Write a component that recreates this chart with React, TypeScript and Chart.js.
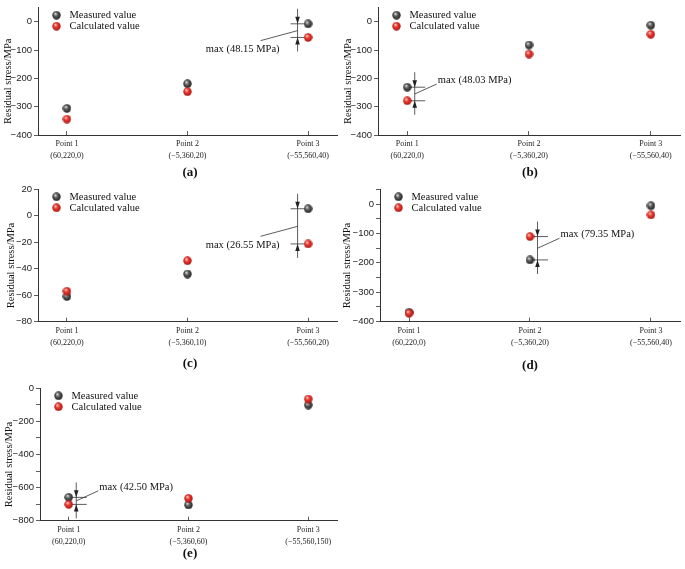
import React, { useEffect, useRef } from 'react';
import { Chart, registerables } from 'chart.js';

Chart.register(...registerables);

// ---------- data ----------
const pointNames = ['Point 1', 'Point 2', 'Point 3'];
const coordsA = ['(60,220,0)', '(−5,360,20)', '(−55,560,40)'];
const coordsB = ['(60,220,0)', '(−5,360,20)', '(−55,560,40)'];
const coordsC = ['(60,220,0)', '(−5,360,10)', '(−55,560,20)'];
const coordsD = ['(60,220,0)', '(−5,360,20)', '(−55,560,40)'];
const coordsE = ['(60,220,0)', '(−5,360,60)', '(−55,560,150)'];

const seriesNames = ['Measured value', 'Calculated value'];

const measuredA = [-306, -219, -7];
const calculatedA = [-344, -247, -55.15];
const measuredB = [-231, -82, -12];
const calculatedB = [-279.03, -114, -44];
const measuredC = [-61, -44, 5.3];
const calculatedC = [-57, -34, -21.25];
const measuredD = [-368, -190, -6];
const calculatedD = [-371, -110.65, -37];
const measuredE = [-659, -705, -101];
const calculatedE = [-701.5, -665, -65];

const maxTexts = ['max (48.15 MPa)', 'max (48.03 MPa)', 'max (26.55 MPa)', 'max (79.35 MPa)', 'max (42.50 MPa)'];
const captions = ['(a)', '(b)', '(c)', '(d)', '(e)'];
const yTitle = 'Residual stress/MPa';

// ---------- styling / layout ----------
const SERIF = '"Liberation Serif", "Times New Roman", serif';
const SANS = '"Liberation Sans", Arial, sans-serif';

type PanelCfg = {
  left: number; top: number; w: number; h: number;
  plot: { l: number; t: number; r: number; b: number };
  yMin: number; yMax: number; major: number; minor: number;
  coords: string[]; measured: number[]; calculated: number[];
  annIndex: number; side: 'left' | 'right'; maxText: string;
  caption: string; capX: number; capY: number; titleX: number;
};

const panels: PanelCfg[] = [
  { left: 0, top: 0, w: 342, h: 168, plot: { l: 38, t: 3, r: 340, b: 135 }, yMin: -400, yMax: 50, major: 100, minor: 50,
    coords: coordsA, measured: measuredA, calculated: calculatedA, annIndex: 2, side: 'left', maxText: maxTexts[0],
    caption: captions[0], capX: 190, capY: 172, titleX: 8 },
  { left: 340, top: 0, w: 345, h: 168, plot: { l: 38, t: 3, r: 343, b: 135 }, yMin: -400, yMax: 50, major: 100, minor: 50,
    coords: coordsB, measured: measuredB, calculated: calculatedB, annIndex: 0, side: 'right', maxText: maxTexts[1],
    caption: captions[1], capX: 530, capY: 172, titleX: 8 },
  { left: 0, top: 180, w: 342, h: 168, plot: { l: 38, t: 9.3, r: 340, b: 141.7 }, yMin: -80, yMax: 20, major: 20, minor: 10,
    coords: coordsC, measured: measuredC, calculated: calculatedC, annIndex: 2, side: 'left', maxText: maxTexts[2],
    caption: captions[2], capX: 190, capY: 363, titleX: 11 },
  { left: 340, top: 180, w: 345, h: 168, plot: { l: 40, t: 9.3, r: 343, b: 141.7 }, yMin: -400, yMax: 50, major: 100, minor: 50,
    coords: coordsD, measured: measuredD, calculated: calculatedD, annIndex: 1, side: 'right', maxText: maxTexts[3],
    caption: captions[3], capX: 530, capY: 365, titleX: 7 },
  { left: 0, top: 370, w: 342, h: 199, plot: { l: 40, t: 18.3, r: 340, b: 150.7 }, yMin: -800, yMax: 0, major: 200, minor: 100,
    coords: coordsE, measured: measuredE, calculated: calculatedE, annIndex: 0, side: 'right', maxText: maxTexts[4],
    caption: captions[4], capX: 190, capY: 553, titleX: 9 },
];

function makeSphere(stops: string[], size: number): HTMLCanvasElement {
  const c = document.createElement('canvas');
  c.width = size; c.height = size;
  const g = c.getContext('2d')!;
  const r = size / 2;
  const grad = g.createRadialGradient(r * 0.72, r * 0.62, r * 0.08, r, r, r);
  grad.addColorStop(0, stops[0]);
  grad.addColorStop(0.4, stops[1]);
  grad.addColorStop(1, stops[2]);
  g.fillStyle = grad;
  g.beginPath();
  g.arc(r, r, r - 0.3, 0, Math.PI * 2);
  g.fill();
  return c;
}

const fmt = (v: number) => (v < 0 ? '−' + Math.abs(v) : String(v));

const sphereLegend = {
  id: 'sphereLegend',
  afterDraw(chart: any) {
    const { ctx, chartArea } = chart;
    ctx.save();
    ctx.font = `10.5px ${SERIF}`;
    ctx.fillStyle = '#111';
    ctx.textBaseline = 'middle';
    ctx.textAlign = 'left';
    chart.data.datasets.forEach((ds: any, i: number) => {
      const x = chartArea.left + 18.5;
      const y = chartArea.top + 7.5 + i * 11;
      const img = ds.pointStyle as HTMLCanvasElement;
      ctx.drawImage(img, x - img.width / 2, y - img.height / 2);
      ctx.fillText(ds.label, x + 13, y + 0.5);
    });
    ctx.restore();
  },
};

const axisTitle = {
  id: 'axisTitle',
  afterDraw(chart: any, _args: any, opts: any) {
    const { ctx, chartArea } = chart;
    ctx.save();
    ctx.translate(opts.x, (chartArea.top + chartArea.bottom) / 2 + 10);
    ctx.rotate(-Math.PI / 2);
    ctx.font = `10.5px ${SERIF}`;
    ctx.fillStyle = '#111';
    ctx.textAlign = 'center';
    ctx.textBaseline = 'middle';
    ctx.fillText(opts.text, 0, 0);
    ctx.restore();
  },
};

const maxDiff = {
  id: 'maxDiff',
  beforeDatasetsDraw(chart: any, _args: any, opts: any) {
    const { ctx } = chart;
    const xs = chart.scales.x, ys = chart.scales.y;
    const i = opts.index;
    const m = chart.data.datasets[0].data[i].y;
    const c = chart.data.datasets[1].data[i].y;
    const px = xs.getPixelForValue(i + 1);
    const ya = ys.getPixelForValue(m), yb = ys.getPixelForValue(c);
    const top = Math.min(ya, yb), bot = Math.max(ya, yb), mid = (top + bot) / 2;
    const left = opts.side === 'left';
    const vx = px + (left ? -10.5 : 7.5);
    ctx.save();
    ctx.strokeStyle = '#333';
    ctx.fillStyle = '#222';
    ctx.lineWidth = 0.8;
    ctx.beginPath();
    ctx.moveTo(vx, top - 15); ctx.lineTo(vx, bot + 14);
    ctx.moveTo(vx - 7, top); ctx.lineTo(vx + 10.5, top);
    ctx.moveTo(vx - 7, bot); ctx.lineTo(vx + 10.5, bot);
    ctx.moveTo(vx, mid); ctx.lineTo(vx + (left ? -37 : 22), mid + (left ? 10 : -10));
    ctx.stroke();
    ctx.beginPath();
    ctx.moveTo(vx, top); ctx.lineTo(vx - 2.3, top - 7); ctx.lineTo(vx + 2.3, top - 7); ctx.closePath();
    ctx.moveTo(vx, bot); ctx.lineTo(vx - 2.3, bot + 7); ctx.lineTo(vx + 2.3, bot + 7); ctx.closePath();
    ctx.fill();
    ctx.font = `10.5px ${SERIF}`;
    ctx.fillStyle = '#111';
    ctx.textBaseline = 'middle';
    ctx.textAlign = left ? 'right' : 'left';
    ctx.fillText(opts.text, vx + (left ? -18 : 23), mid + (left ? 19 : -14));
    ctx.restore();
  },
};

function ChartPanel({ p }: { p: PanelCfg }) {
  const ref = useRef<HTMLCanvasElement>(null);
  useEffect(() => {
    const grey = makeSphere(['#d8d8d8', '#5e5e5e', '#1a1a1a'], 9);
    const red = makeSphere(['#ffc4bc', '#ec3a30', '#a3120f'], 9);
    const chart = new Chart(ref.current!, {
      type: 'scatter',
      data: {
        datasets: [
          { label: seriesNames[0], data: p.measured.map((v, i) => ({ x: i + 1, y: v })), pointStyle: grey as any, order: 1 },
          { label: seriesNames[1], data: p.calculated.map((v, i) => ({ x: i + 1, y: v })), pointStyle: red as any, order: 0 },
        ],
      },
      options: {
        animation: false,
        responsive: false,
        maintainAspectRatio: false,
        layout: { padding: { top: p.plot.t, right: p.w - p.plot.r, left: 0, bottom: 0 } },
        plugins: {
          legend: { display: false },
          tooltip: { enabled: false },
          maxDiff: { index: p.annIndex, side: p.side, text: p.maxText },
          axisTitle: { x: p.titleX, text: yTitle },
        } as any,
        scales: {
          x: {
            type: 'linear',
            min: 0.76,
            max: 3.24,
            afterBuildTicks: (s: any) => { s.ticks = pointNames.map((_, i) => ({ value: i + 1 })); },
            afterFit: (s: any) => { s.height = p.h - p.plot.b; },
            grid: { drawOnChartArea: false, tickLength: -4, color: '#333', tickWidth: 0.8 },
            border: { display: true, color: '#333', width: 1 },
            ticks: {
              autoSkip: false, maxRotation: 0, padding: 7, color: '#222',
              font: { family: SERIF, size: 8, lineHeight: 1.5 },
              callback: (v: any) => [pointNames[v - 1], p.coords[v - 1]],
            },
          },
          y: {
            min: p.yMin,
            max: p.yMax,
            afterFit: (s: any) => { s.width = p.plot.l; },
            grid: { drawOnChartArea: false, tickLength: 4, color: '#333', tickWidth: 0.8 },
            border: { display: true, color: '#333', width: 1 },
            ticks: {
              stepSize: p.minor, includeBounds: false, padding: 2, color: '#222',
              font: { family: SANS, size: 9.5 },
              callback: (v: any) => (Math.round(v) % p.major === 0 ? fmt(Math.round(v)) : ''),
            },
            title: { display: false },
          },
        },
      } as any,
      plugins: [maxDiff, sphereLegend, axisTitle],
    });
    return () => chart.destroy();
  }, [p]);
  return (
    <div style={{ position: 'absolute', left: p.left, top: p.top, width: p.w, height: p.h }}>
      <canvas ref={ref} width={p.w} height={p.h} style={{ width: p.w, height: p.h, display: 'block' }} />
    </div>
  );
}

export default function App() {
  return (
    <div style={{ position: 'absolute', left: 0, top: 0, width: 685, height: 569, background: '#fff', overflow: 'hidden' }}>
      {panels.map((p, i) => <ChartPanel key={i} p={p} />)}
      {panels.map((p, i) => (
        <div key={'c' + i} style={{ position: 'absolute', left: p.capX, top: p.capY, transform: 'translate(-50%, -50%)',
          font: `bold 13px ${SERIF}`, color: '#111', whiteSpace: 'nowrap' }}>{p.caption}</div>
      ))}
    </div>
  );
}
